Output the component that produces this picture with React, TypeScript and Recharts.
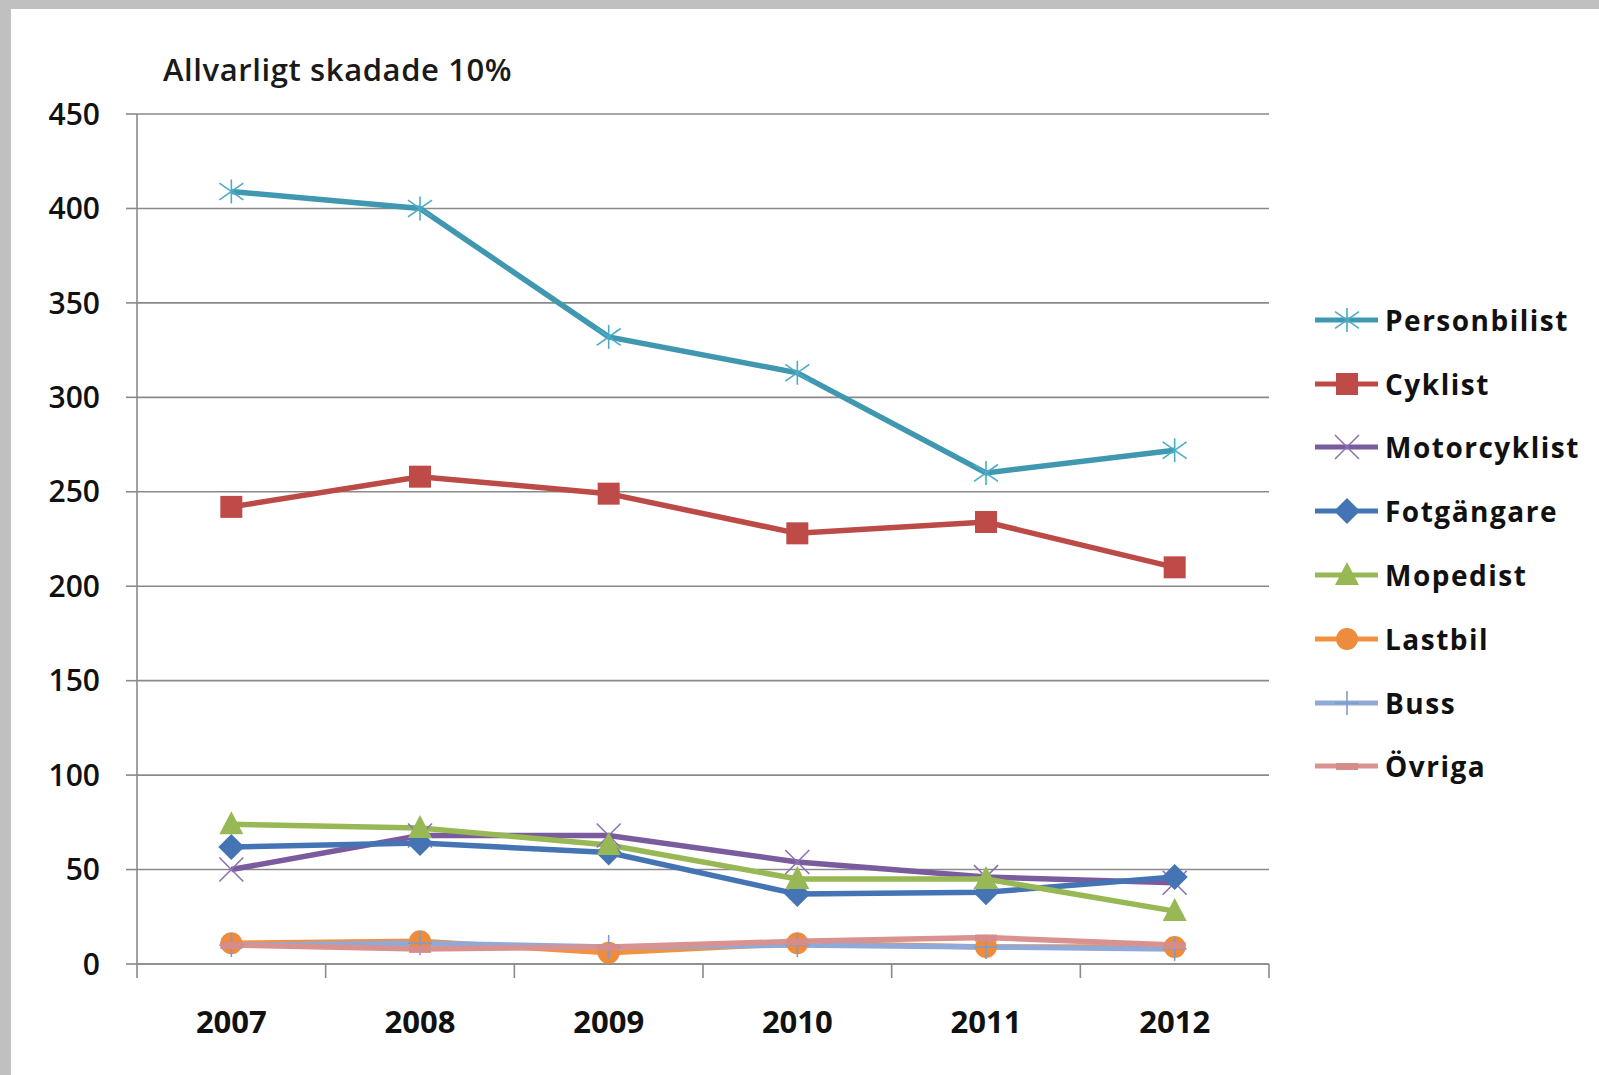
import React from "react";
import { LineChart, Line, XAxis, YAxis, CartesianGrid } from "recharts";

const years = ["2007", "2008", "2009", "2010", "2011", "2012"];
const personbilist = [409, 400, 332, 313, 260, 272];
const cyklist = [242, 258, 249, 228, 234, 210];
const motorcyklist = [50, 68, 68, 54, 46, 43];
const fotgangare = [62, 64, 59, 37, 38, 46];
const mopedist = [74, 72, 63, 45, 45, 28];
const lastbil = [11, 12, 6, 11, 9, 9];
const buss = [10, 11, 9, 10, 9, 8];
const ovriga = [10, 8, 9, 12, 14, 10];
const yTicks = [0, 50, 100, 150, 200, 250, 300, 350, 400, 450];

type Shape = "star" | "square" | "x" | "diamond" | "triangle" | "circle" | "plus" | "dash";

const seriesList: { key: string; name: string; values: number[]; color: string; marker: string; shape: Shape }[] = [
    { key: "personbilist", name: "Personbilist", values: personbilist, color: "#3f98b0", marker: "#4bacc6", shape: "star" },
    { key: "cyklist", name: "Cyklist", values: cyklist, color: "#bc4a47", marker: "#be4b48", shape: "square" },
    { key: "motorcyklist", name: "Motorcyklist", values: motorcyklist, color: "#7a5c9e", marker: "#8c72b0", shape: "x" },
    { key: "fotgangare", name: "Fotgängare", values: fotgangare, color: "#4474b4", marker: "#4474b4", shape: "diamond" },
    { key: "mopedist", name: "Mopedist", values: mopedist, color: "#97b854", marker: "#97b854", shape: "triangle" },
    { key: "lastbil", name: "Lastbil", values: lastbil, color: "#f29240", marker: "#ec8c3c", shape: "circle" },
    { key: "buss", name: "Buss", values: buss, color: "#8faad8", marker: "#7f9bcc", shape: "plus" },
    { key: "ovriga", name: "Övriga", values: ovriga, color: "#d9928f", marker: "#d68c89", shape: "dash" },
];

const data = years.map((year, i) => {
    const row: Record<string, string | number> = { year };
    seriesList.forEach((s) => {
        row[s.key] = s.values[i];
    });
    return row;
});

// tick marks sit between the categories, like in Excel
const boundaryTicks = [...years.map((_, i) => i), years.length];
const slotOf = (d: any) => years.indexOf(d.year) + 0.5;

function Marker({ shape, cx, cy, color }: { shape: Shape; cx: number; cy: number; color: string }) {
    const h = 12;
    switch (shape) {
        case "star":
            return (
                <g stroke={color} strokeWidth={1.6}>
                    <line x1={cx} y1={cy - h} x2={cx} y2={cy + h} />
                    <line x1={cx - h} y1={cy - h * 0.7} x2={cx + h} y2={cy + h * 0.7} />
                    <line x1={cx - h} y1={cy + h * 0.7} x2={cx + h} y2={cy - h * 0.7} />
                </g>
            );
        case "square":
            return <rect x={cx - 11} y={cy - 11} width={22} height={22} fill={color} />;
        case "x":
            return (
                <g stroke={color} strokeWidth={1.6}>
                    <line x1={cx - h} y1={cy - h} x2={cx + h} y2={cy + h} />
                    <line x1={cx - h} y1={cy + h} x2={cx + h} y2={cy - h} />
                </g>
            );
        case "diamond":
            return <polygon points={`${cx},${cy - 13} ${cx + 13},${cy} ${cx},${cy + 13} ${cx - 13},${cy}`} fill={color} />;
        case "triangle":
            return <polygon points={`${cx},${cy - 13} ${cx + 12},${cy + 10} ${cx - 12},${cy + 10}`} fill={color} />;
        case "circle":
            return <circle cx={cx} cy={cy} r={11} fill={color} />;
        case "plus":
            return (
                <g stroke={color} strokeWidth={1.6}>
                    <line x1={cx} y1={cy - h} x2={cx} y2={cy + h} />
                    <line x1={cx - h} y1={cy} x2={cx + h} y2={cy} />
                </g>
            );
        default:
            return <rect x={cx - 11} y={cy - 3} width={22} height={7} fill={color} />;
    }
}

const dotFor = (shape: Shape, color: string) => (props: any) => {
    const { cx, cy, index } = props;
    return (
        <g key={`dot-${shape}-${index}`}>
            <Marker shape={shape} cx={cx} cy={cy} color={color} />
        </g>
    );
};

const font = "'Open Sans', 'DejaVu Sans', sans-serif";

export default function App() {
    return (
        <div style={{ position: "absolute", left: 0, top: 0, width: 1599, height: 1075, background: "#c0c0c0", fontFamily: font }}>
            <div style={{ position: "absolute", left: 11, top: 9, width: 1588, height: 1066, background: "#ffffff" }}>
                <LineChart
                    width={1588}
                    height={1066}
                    data={data}
                    margin={{ top: 105, right: 330, left: 46, bottom: 37 }}
                >
                    <CartesianGrid vertical={false} stroke="#8a8a8a" strokeWidth={1.6} />
                    <XAxis
                        xAxisId="bounds"
                        type="number"
                        dataKey={slotOf}
                        domain={[0, years.length]}
                        ticks={boundaryTicks}
                        tick={() => <g />}
                        tickSize={14}
                        height={14}
                        stroke="#8a8a8a"
                        strokeWidth={1.6}
                        allowDataOverflow
                    />
                    <XAxis
                        xAxisId="cat"
                        dataKey="year"
                        scale="band"
                        axisLine={false}
                        tickLine={false}
                        tickSize={0}
                        tickMargin={33}
                        height={60}
                        tick={{ fill: "#111", fontSize: 31, fontWeight: 700, fontFamily: font }}
                    />
                    <YAxis
                        domain={[0, 450]}
                        ticks={yTicks}
                        width={80}
                        tickSize={11}
                        tickMargin={26}
                        stroke="#8a8a8a"
                        strokeWidth={1.6}
                        tick={{ fill: "#111", fontSize: 30, fontWeight: 600, fontFamily: font }}
                        interval={0}
                    />
                    {seriesList.map((s) => (
                        <Line
                            key={s.key}
                            xAxisId="cat"
                            dataKey={s.key}
                            name={s.name}
                            stroke={s.color}
                            strokeWidth={5.5}
                            dot={dotFor(s.shape, s.marker)}
                            activeDot={false}
                            isAnimationActive={false}
                        />
                    ))}
                </LineChart>
                <div
                    style={{
                        position: "absolute",
                        left: 152,
                        top: 40,
                        fontSize: 31,
                        fontWeight: 600,
                        letterSpacing: 0.6,
                        color: "#1a1a1a",
                        lineHeight: "40px",
                    }}
                >
                    Allvarligt skadade 10%
                </div>
                <div style={{ position: "absolute", left: 1304, top: 279 }}>
                    {seriesList.map((s) => (
                        <div key={s.key} style={{ display: "flex", alignItems: "center", height: 63.8 }}>
                            <svg width={64} height={30} style={{ display: "block" }}>
                                <line x1={0} y1={15} x2={63} y2={15} stroke={s.color} strokeWidth={5} />
                                <Marker shape={s.shape} cx={32} cy={15} color={s.marker} />
                            </svg>
                            <span style={{ marginLeft: 6, fontSize: 28, fontWeight: 700, letterSpacing: 1.5, color: "#111" }}>
                                {s.name}
                            </span>
                        </div>
                    ))}
                </div>
            </div>
        </div>
    );
}
